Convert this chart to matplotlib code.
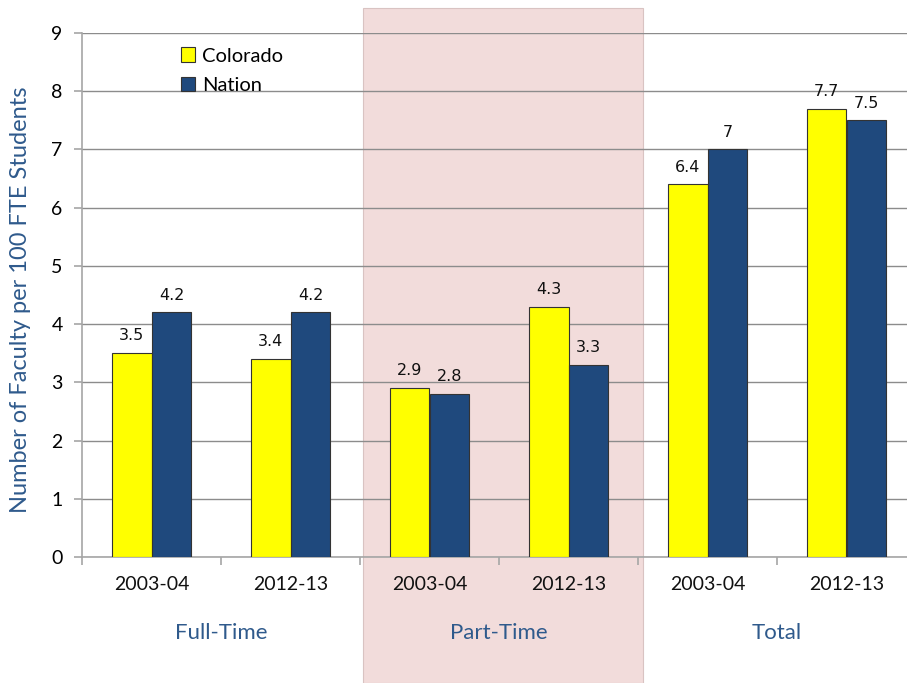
import matplotlib
matplotlib.use("Agg")
import matplotlib.pyplot as plt
from matplotlib.patches import Rectangle
import numpy as np

groups = ["Full-Time", "Part-Time", "Total"]
years = ["2003-04", "2012-13"]
colorado = [3.5, 3.4, 2.9, 4.3, 6.4, 7.7]
nation = [4.2, 4.2, 2.8, 3.3, 7.0, 7.5]
series_names = ["Colorado", "Nation"]

W, H = 907, 683
fig = plt.figure(figsize=(W / 100, H / 100), dpi=100)

ax = fig.add_axes([82 / W, 126 / H, 834 / W, 524 / H])
ax.set_facecolor("none")

# shaded band behind the Part-Time group, running past the plot area
band = Rectangle((363 / W, 0), (643 - 363) / W, (H - 8) / H,
                 transform=fig.transFigure, facecolor="#f2dcdb",
                 edgecolor="#d9c3c2", linewidth=0.8, zorder=0.2,
                 clip_on=False)
ax.add_patch(band)

n = len(colorado)
x = np.arange(n)
bw = 0.287
c_yellow = "#ffff00"
c_navy = "#1f497d"
b1 = ax.bar(x - bw / 2, colorado, bw, color=c_yellow, edgecolor="#333333",
            linewidth=0.8, zorder=3, label=series_names[0])
b2 = ax.bar(x + bw / 2, nation, bw, color=c_navy, edgecolor="#333333",
            linewidth=0.8, zorder=3, label=series_names[1])

for bars, vals in ((b1, colorado), (b2, nation)):
    for rect, v in zip(bars, vals):
        ax.annotate(f"{v:g}", (rect.get_x() + rect.get_width() / 2, v),
                    xytext=(0, 7), textcoords="offset points",
                    ha="center", va="bottom", fontsize=11.5,
                    family="DejaVu Sans", color="#111111")

ax.set_xlim(-0.5, n - 0.5)
ax.set_ylim(0, 9)
ax.set_yticks(range(10))
ax.yaxis.grid(True, color="#8c8c8c", linewidth=1.0, zorder=1)
ax.set_axisbelow(True)

for s in ("top", "right"):
    ax.spines[s].set_visible(False)
for s in ("left", "bottom"):
    ax.spines[s].set_color("#a6a6a6")
    ax.spines[s].set_linewidth(1.2)

ax.set_xticks(np.arange(-0.5, n, 1.0))
ax.set_xticklabels([])
ax.tick_params(axis="x", length=6, color="#a6a6a6", width=1.2)
ax.tick_params(axis="y", length=6, color="#a6a6a6", width=1.2,
               labelsize=14, pad=8)
for lab in ax.get_yticklabels():
    lab.set_family("Lato")

# year labels under each pair of bars
for i in range(n):
    ax.text(x[i], -0.47, years[i % 2], ha="center", va="center",
            fontsize=14, family="Lato", color="#111111")
# group labels
for g, name in enumerate(groups):
    ax.text(2 * g + 0.5, -1.3, name, ha="center", va="center",
            fontsize=16, family="Lato", color="#2f5a8c")

fig.text(21 / W, (H - 300) / H, "Number of Faculty per 100 FTE Students",
         rotation=90, ha="center", va="center", fontsize=17,
         family="Lato", color="#2f5a8c")

leg = ax.legend(loc="upper left", bbox_to_anchor=(0.097, 1.007),
                frameon=False, handlelength=0.7,
                handleheight=0.7, handletextpad=0.35, labelspacing=0.62,
                prop={"family": "Lato", "size": 14.5})

fig.savefig("out.png", dpi=100)
